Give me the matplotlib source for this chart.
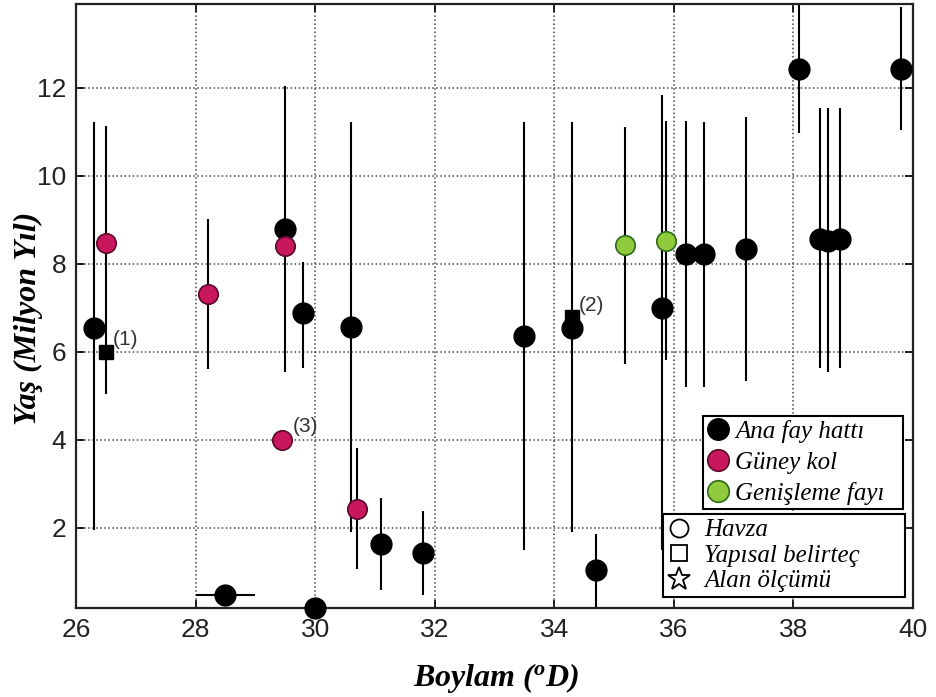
import matplotlib
matplotlib.use('Agg')
import matplotlib.pyplot as plt
from matplotlib.lines import Line2D

plt.rcParams['font.family'] = ['Liberation Sans Narrow', 'Liberation Sans', 'DejaVu Sans']
plt.rcParams['mathtext.fontset'] = 'custom'
plt.rcParams['mathtext.it'] = 'Liberation Serif:italic:bold'
plt.rcParams['mathtext.rm'] = 'Liberation Serif:italic:bold'

# Ana fay hatti (black circles)
ana_lon = [26.3, 28.5, 29.5, 29.8, 30.0, 30.6, 31.1, 31.8, 33.5, 34.3,
           34.7, 35.8, 36.2, 36.5, 37.2, 38.1, 38.45, 38.57, 38.78, 39.8]
ana_lon_lo = [26.3, 28.0, 29.5, 29.8, 30.0, 30.6, 31.1, 31.8, 33.5, 34.3,
              34.7, 35.8, 36.2, 36.5, 37.2, 38.1, 38.45, 38.57, 38.78, 39.8]
ana_lon_hi = [26.3, 29.0, 29.5, 29.8, 30.0, 30.6, 31.1, 31.8, 33.5, 34.3,
              34.7, 35.8, 36.2, 36.5, 37.2, 38.1, 38.45, 38.57, 38.78, 39.8]
ana_age = [6.55, 0.47, 8.78, 6.87, 0.18, 6.56, 1.63, 1.43, 6.36, 6.55,
           1.04, 7.0, 8.22, 8.22, 8.33, 12.43, 8.57, 8.52, 8.57, 12.43]
ana_lo = [1.95, 0.47, 5.53, 5.64, 0.18, 1.91, 0.58, 0.47, 1.49, 1.91,
          0.0, 1.5, 5.21, 5.21, 5.33, 10.96, 5.64, 5.53, 5.64, 11.03]
ana_hi = [11.22, 0.47, 12.03, 8.03, 0.18, 11.22, 2.67, 2.38, 11.22, 11.22,
          1.87, 11.83, 11.24, 11.22, 11.34, 14.5, 11.53, 11.53, 11.53, 13.84]

# Guney kol (pink circles)
guney_lon = [26.5, 28.2, 29.5, 29.45, 30.7]
guney_age = [8.47, 7.31, 8.41, 4.0, 2.43]
guney_lo = [5.03, 5.6, 8.41, 4.0, 1.07]
guney_hi = [11.12, 9.02, 8.41, 4.0, 3.81]

# Genisleme fayi (green circles)
genis_lon = [35.18, 35.87]
genis_age = [8.42, 8.52]
genis_lo = [5.72, 5.82]
genis_hi = [11.1, 11.24]

# Yapisal belirtec (squares)
yapi_lon = [26.5, 34.3]
yapi_age = [6.0, 6.78]
yapi_labels = ['(1)', '(2)']

x_ticks = [26, 28, 30, 32, 34, 36, 38, 40]
y_ticks = [2, 4, 6, 8, 10, 12]

pink = '#c8175d'
pink_edge = '#5a0a2a'
green = '#8fcb3c'
green_edge = '#2f6a1a'


def add_errs(ax, lon, age, lo, hi, lon_lo=None, lon_hi=None):
    yerr = [[a - l for a, l in zip(age, lo)], [h - a for a, h in zip(age, hi)]]
    xerr = None
    if lon_lo is not None:
        xerr = [[x - l for x, l in zip(lon, lon_lo)], [h - x for x, h in zip(lon, lon_hi)]]
    ax.errorbar(lon, age, yerr=yerr, xerr=xerr, fmt='none', ecolor='black',
                elinewidth=1.5, capsize=0, zorder=2)


fig = plt.figure(figsize=(9.36, 6.97), dpi=100)
ax = fig.add_axes([76 / 936, 89 / 697, 837 / 936, 604 / 697])

add_errs(ax, ana_lon, ana_age, ana_lo, ana_hi, ana_lon_lo, ana_lon_hi)
add_errs(ax, guney_lon, guney_age, guney_lo, guney_hi)
add_errs(ax, genis_lon, genis_age, genis_lo, genis_hi)

ax.plot(yapi_lon, yapi_age, ls='none', marker='s', ms=9.5, mfc='black', mec='black',
        zorder=3, clip_on=False)
ax.plot(ana_lon, ana_age, ls='none', marker='o', ms=15, mfc='black', mec='black',
        zorder=4, clip_on=False)
ax.plot(guney_lon, guney_age, ls='none', marker='o', ms=14, mfc=pink, mec=pink_edge,
        mew=1.2, zorder=5, clip_on=False)
ax.plot(genis_lon, genis_age, ls='none', marker='o', ms=14, mfc=green, mec=green_edge,
        mew=1.2, zorder=5, clip_on=False)

for x, y, t in zip(yapi_lon, yapi_age, yapi_labels):
    ax.text(x + 0.11, y + 0.28, t, fontsize=15, color='#333333', va='center', ha='left')
ax.text(guney_lon[3] + 0.17, guney_age[3] + 0.3, '(3)', fontsize=15, color='#333333',
        va='center', ha='left')

ax.set_xlim(26, 40)
ax.set_ylim(0.18, 13.9)
ax.set_xticks(x_ticks)
ax.set_yticks(y_ticks)
ax.grid(True, ls=':', color='#444444', lw=1.1)
ax.tick_params(direction='in', top=True, right=True, length=6, width=1.2, labelsize=19,
               pad=7, labelcolor='#222222')
for s in ax.spines.values():
    s.set_linewidth(1.6)
    s.set_color('#222222')

ax.set_xlabel(r'Boylam ($^{o}$D)', family='Liberation Serif', style='italic',
              weight='bold', fontsize=23)
ax.set_ylabel('Yaş (Milyon Yıl)', family='Liberation Serif', style='italic',
              weight='bold', fontsize=23)
ax.xaxis.set_label_coords(0.502, -0.088)
ax.yaxis.set_label_coords(-0.040, 0.48)

h1 = [Line2D([], [], ls='none', marker='o', ms=15.5, mfc='black', mec='black'),
      Line2D([], [], ls='none', marker='o', ms=15.5, mfc=pink, mec=pink_edge, mew=1.2),
      Line2D([], [], ls='none', marker='o', ms=15.5, mfc=green, mec=green_edge, mew=1.2)]
leg1 = ax.legend(h1, ['Ana fay hattı', 'Güney kol', 'Genişleme fayı'],
                 loc='upper left', bbox_to_anchor=(0.749, 0.167, 0.239, 0.151),
                 mode='expand', borderaxespad=0,
                 prop={'family': 'Liberation Serif', 'style': 'italic', 'size': 18},
                 fancybox=False, edgecolor='black', framealpha=1, handlelength=0.9,
                 handletextpad=0.25, labelspacing=0.34, borderpad=0.15)
leg1.get_frame().set_linewidth(1.5)
ax.add_artist(leg1)

h2 = [Line2D([], [], ls='none', marker='o', ms=13, mfc='none', mec='black', mew=1.3),
      Line2D([], [], ls='none', marker='s', ms=11, mfc='none', mec='black', mew=1.3),
      Line2D([], [], ls='none', marker='*', ms=17, mfc='none', mec='black', mew=1.3)]
leg2 = ax.legend(h2, ['Havza', 'Yapısal belirteç', 'Alan ölçümü'],
                 loc='upper left', bbox_to_anchor=(0.701, 0.020, 0.289, 0.136),
                 mode='expand', borderaxespad=0,
                 prop={'family': 'Liberation Serif', 'style': 'italic', 'size': 18},
                 fancybox=False, edgecolor='black', framealpha=1, handlelength=0.9,
                 handletextpad=0.55, labelspacing=0.12, borderpad=0.2)
leg2.get_frame().set_linewidth(1.5)
leg1.set_zorder(10)
leg2.set_zorder(10)

fig.savefig('out.png', dpi=100)
